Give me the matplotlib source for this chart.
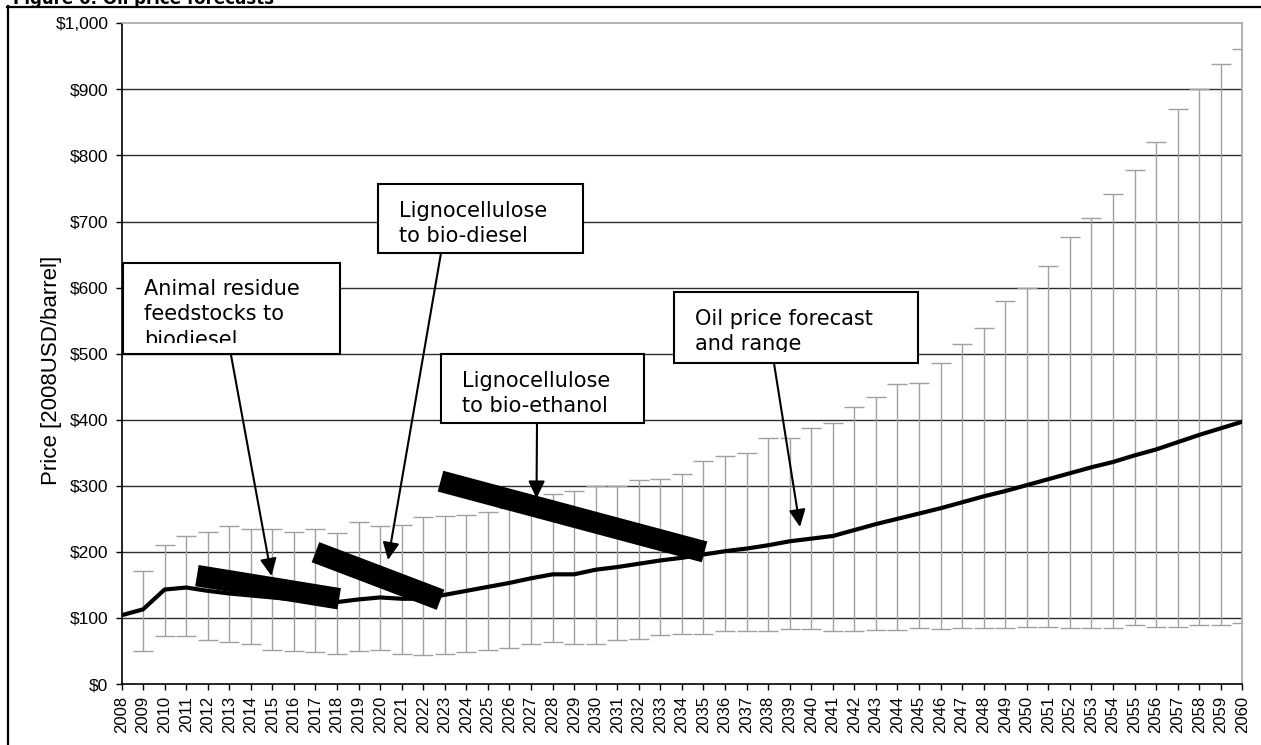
import numpy as np
import matplotlib
matplotlib.use('Agg')
import matplotlib.pyplot as plt
from matplotlib.patches import Rectangle, FancyArrowPatch
from matplotlib.transforms import Affine2D
from matplotlib.lines import Line2D

plt.rcParams['font.family'] = ['Liberation Sans', 'DejaVu Sans']

# oil price forecast, 2008 USD per barrel
years = list(range(2008, 2061))
price = [104, 113, 143, 146, 141, 137, 134, 131, 128, 126,
         124, 128, 131, 129, 129, 135, 141, 147, 153, 160,
         166, 166, 173, 177, 182, 187, 191, 196, 201, 205,
         210, 216, 220, 224, 233, 242, 250, 258, 266, 275,
         284, 292, 301, 310, 319, 328, 336, 346, 355, 366,
         377, 387, 397]
# range (no range given for 2008)
high = [np.nan, 171, 210, 224, 230, 239, 234, 234, 230, 234,
        228, 245, 239, 241, 253, 254, 256, 261, 267, 277,
        288, 292, 300, 300, 309, 311, 318, 337, 345, 350,
        372, 372, 387, 395, 420, 435, 454, 456, 486, 515,
        539, 579, 600, 632, 677, 705, 742, 778, 821, 870,
        900, 939, 961]
low = [np.nan, 50, 72, 72, 66, 63, 60, 52, 50, 48,
       46, 50, 52, 46, 44, 46, 48, 52, 55, 60,
       63, 60, 61, 66, 68, 74, 76, 76, 80, 80,
       80, 84, 84, 80, 80, 82, 82, 85, 84, 85,
       85, 85, 87, 87, 85, 85, 85, 89, 87, 87,
       89, 89, 92]

# cost ranges of the biofuel routes (start/end year, start/end price)
route_years = [(2011.5, 2018.1), (2017.0, 2022.8), (2022.8, 2035.05)]
route_prices = [(164, 129), (199.5, 127.5), (307, 200)]

yticks = list(range(0, 1001, 100))

W, H = 1261, 745
fig = plt.figure(figsize=(W / 100, H / 100), dpi=100)
ax = fig.add_axes([121.5 / W, 1 - 684 / H, (1242.3 - 121.5) / W, (684 - 23.3) / H])
# pixel coords, origin top-left, for the page furniture
px = Affine2D().scale(1 / W, -1 / H).translate(0, 1) + fig.transFigure

yrs = np.array(years)
p = np.array(price)
hi = np.array(high)
lo = np.array(low)
m = ~np.isnan(hi)

for v in yticks[1:-1]:
    ax.axhline(v, color='#2e2e2e', lw=1.0, zorder=1)

ax.errorbar(yrs[m], p[m], yerr=[p[m] - lo[m], hi[m] - p[m]], fmt='none',
            ecolor='#a0a0a0', elinewidth=1.0, capsize=7, capthick=1.0, zorder=2)
ax.plot(yrs, p, color='black', lw=3, solid_joinstyle='round', zorder=3)
for (x0, x1), (y0, y1) in zip(route_years, route_prices):
    ax.plot([x0, x1], [y0, y1], color='black', lw=15.5, solid_capstyle='butt', zorder=4)

ax.set_xlim(2008, 2060)
ax.set_ylim(0, 1000)
ax.set_xticks(years)
ax.set_xticklabels([str(y) for y in years], rotation=90, fontsize=12)
ax.set_yticks(yticks)
ax.set_yticklabels(['${:,}'.format(v) for v in yticks], fontsize=12.5)
ax.tick_params(axis='both', length=4.5, width=1.0, color='black')
ax.tick_params(axis='x', pad=4)
ax.tick_params(axis='y', pad=5)
for s in ['left', 'bottom']:
    ax.spines[s].set_color('black')
    ax.spines[s].set_linewidth(1.2)
for s in ['top', 'right']:
    ax.spines[s].set_color('#a6a6a6')
    ax.spines[s].set_linewidth(1.2)

fig.text(52 / W, 1 - 370 / H, 'Price [2008USD/barrel]', rotation=90,
         ha='center', va='center', fontsize=16)

# page title (cut by the page top) and frame
fig.text(13, 4, 'Figure 6: Oil price forecasts', transform=px, fontsize=12,
         weight='bold', family='DejaVu Sans', va='baseline')
fig.add_artist(Line2D([8, 8], [6, 745], transform=px, color='black', lw=1.6))
fig.add_artist(Line2D([7, 1261], [7, 7], transform=px, color='black', lw=1.6))


def callout(x0, y0, x1, y1, lines, tx, ty, clip_y=None):
    fig.add_artist(Rectangle((x0, y0), x1 - x0, y1 - y0, transform=px, facecolor='white',
                             edgecolor='none', zorder=5))
    for i, s in enumerate(lines):
        fig.text(tx, ty + i * 25.5, s, transform=px, fontsize=15,
                 family='DejaVu Sans', va='baseline', ha='left', zorder=6)
    if clip_y is not None:
        # text runs past the box padding and is cut off
        fig.add_artist(Rectangle((x0, clip_y), x1 - x0, y1 - clip_y, transform=px,
                                 facecolor='white', edgecolor='none', zorder=6.5))
    fig.add_artist(Rectangle((x0, y0), x1 - x0, y1 - y0, transform=px, fill=False,
                             edgecolor='black', lw=1.5, zorder=7))


def arrow(a, b):
    fig.add_artist(FancyArrowPatch(a, b, transform=px, arrowstyle='-|>,head_length=10.5,head_width=5',
                                   color='black', lw=1.5, shrinkA=0, shrinkB=0, zorder=8))


callout(123.3, 262.7, 340, 354, ['Animal residue', 'feedstocks to', 'biodiesel'], 144, 295, clip_y=343)
callout(378.3, 184, 583.3, 252.7, ['Lignocellulose', 'to bio-diesel'], 399.3, 216.7)
callout(440.5, 354.3, 644, 423.3, ['Lignocellulose', 'to bio-ethanol'], 461.5, 386.7)
callout(674.3, 292.3, 918.3, 362.7, ['Oil price forecast', 'and range'], 695, 325, clip_y=351.7)

arrow((231, 355), (271.5, 576))
arrow((441, 253), (388, 560))
arrow((537, 423.5), (536.5, 498.5))
arrow((774, 363.3), (800, 527))

fig.savefig('out.png', dpi=100)
